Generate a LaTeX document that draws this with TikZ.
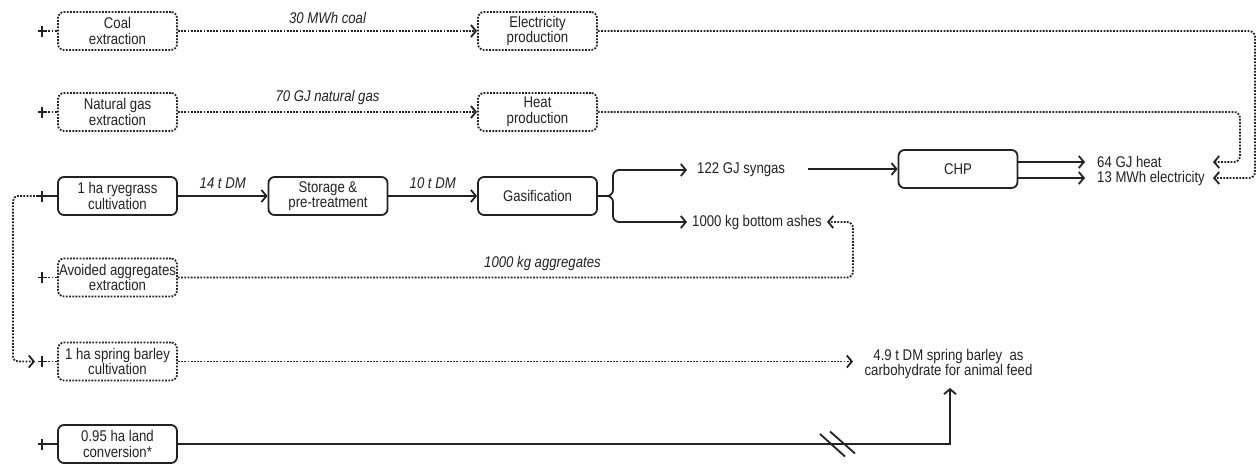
\documentclass[tikz,border=0pt]{standalone}
\usepackage{fontspec}
\setmainfont{Liberation Sans}[FakeStretch=0.85]
\usetikzlibrary{arrows.meta}
\definecolor{ink}{HTML}{222222}
\begin{document}
\begin{tikzpicture}[x=1pt,y=-1pt,
  font=\fontsize{15.5}{15.5}\selectfont,
  proc/.style={draw=ink, line width=1.8pt, rounded corners=6pt, minimum width=119pt,
    minimum height=38pt, align=center, inner sep=0pt, text=ink},
  dots/.style={dash pattern=on 1.8pt off 1.4pt},
  avoided/.style={proc, dots},
  flow/.style={draw=ink, line width=1.8pt, -{Straight Barb[length=5pt,width=12pt,line width=1.8pt]}},
  dflow/.style={flow, dots},
  plain/.style={draw=ink, line width=1.8pt},
  lbl/.style={text=ink, inner sep=0pt, font=\fontsize{15.5}{15.5}\selectfont\itshape},
  txt/.style={text=ink, inner sep=0pt, align=center}]
\useasboundingbox (0,0) rectangle (1257,463);

% process boxes
\node[avoided] (coal)   at (117.5,31)  {Coal\\extraction};
\node[avoided] (elec)   at (537.5,31)  {Electricity\\production};
\node[avoided] (ngas)   at (117.5,112) {Natural gas\\extraction};
\node[avoided] (heatp)  at (537.5,112) {Heat\\production};
\node[proc]    (rye)    at (117.5,196) {1 ha ryegrass\\cultivation};
\node[proc]    (stor)   at (328,196)   {Storage \&\\pre-treatment};
\node[proc]    (gasi)   at (537.5,196) {Gasification};
\node[proc]    (chp)    at (958,169)   {CHP};
\node[avoided] (agg)    at (117.5,277.5) {Avoided aggregates\\extraction};
\node[avoided] (barley) at (117.5,361.5) {1 ha spring barley\\cultivation};
\node[proc]    (land)   at (117.5,444) {0.95 ha land\\conversion*};

% product texts
\node[txt, anchor=west] (syn)   at (697,170)  {122 GJ syngas};
\node[txt, anchor=west] (ash)   at (692,222)  {1000 kg bottom ashes};
\node[txt, anchor=west] (heatt) at (1097,162) {64 GJ heat};
\node[txt, anchor=west] (elt)   at (1097,178) {13 MWh electricity};
\node[txt] (feed) at (948.5,364) {4.9 t DM spring barley\ \ as\\carbohydrate for animal feed};

% free ends
\coordinate (synout)  at (808,169);
\coordinate (heattip) at (1213,162);
\coordinate (eltip)   at (1213,178);
\coordinate (ashtip)  at (827,222);
\coordinate (feedtip) at (853,361.5);
\coordinate (landtip) at (950,388);
\coordinate (looptip) at (35,361.5);

% start markers
\foreach \b/\y/\s in {coal/31/dots, ngas/112/dots, rye/196/solid, agg/277.5/dots, barley/361.5/dots, land/444/solid}{
  \coordinate (m\b) at (42,\y);
  \draw[plain] ([yshift=5.5pt]m\b) -- ([yshift=-5.5pt]m\b);
  \draw[plain] ([xshift=-4pt]m\b) -- ([xshift=3pt]m\b);
  \draw[plain, \s] (m\b) -- (\b.west);
}

% flows
\draw[dflow] (coal.east) -- node[lbl, above=6pt] {30 MWh coal} (elec.west);
\draw[dflow] (ngas.east) -- node[lbl, above=6pt] {70 GJ natural gas} (heatp.west);
\draw[flow] (rye.east) -- node[lbl, above=6pt] {14 t DM} (stor.west);
\draw[flow] (stor.east) -- node[lbl, above=6pt] {10 t DM} (gasi.west);

\draw[flow, rounded corners=6pt] (gasi.east) -- (613,196) |- ([xshift=-10pt]syn.west);
\draw[flow, rounded corners=6pt] (gasi.east) -- (613,196) |- ([xshift=-5pt]ash.west);
\draw[flow] (synout) -- (chp.west);

\draw[flow] (chp.east |- heatt) -- ([xshift=-12pt]heatt.west);
\draw[flow] (chp.east |- elt) -- ([xshift=-12pt]elt.west);

\draw[dflow, rounded corners=6pt] (elec.east) -- (1255,31) |- (eltip);
\draw[dflow, rounded corners=6pt] (heatp.east) -- (1240,112) |- (heattip);

\draw[dflow, rounded corners=6pt] (agg.east) -- node[lbl, above=6pt, pos=0.54] {1000 kg aggregates} (853,277.5) |- (ashtip);

\draw[dflow, rounded corners=5pt] ([xshift=-4pt]mrye) -- (13,196) |- (looptip);

\draw[dflow] (barley.east) -- (feedtip);
\draw[flow] (land.east) -| (landtip);

% break marks
\draw[plain] (820,434) -- (845,456.5);
\draw[plain] (830,431.5) -- (855,453.5);
\end{tikzpicture}
\end{document}
